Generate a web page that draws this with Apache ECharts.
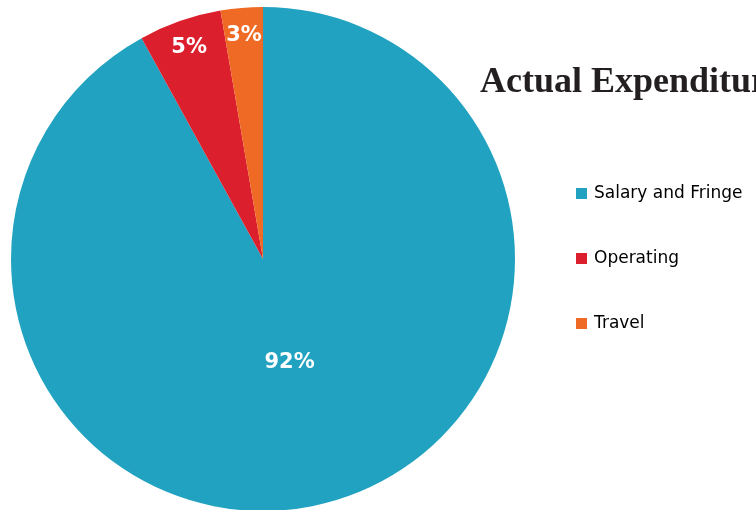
<!DOCTYPE html>
<html><head><meta charset="utf-8">
<script src="https://cdn.jsdelivr.net/npm/echarts@6/dist/echarts.min.js"></script>
<style>html,body{margin:0;padding:0;background:#fff}#c{width:756px;height:510px}</style>
</head><body><div id="c"></div>
<script>
const categories = ['Salary and Fringe', 'Operating', 'Travel'];
const values = [92, 5.3, 2.7];
const colors = ['#21a2c0', '#dc1f2c', '#ef6a24'];
const titleText = 'Actual Expenditure';

const chart = echarts.init(document.getElementById('c'));
const center = [263, 259];
const baseData = categories.map((n, i) => ({ name: n, value: values[i], itemStyle: { color: colors[i] } }));
const labelStyle = { color: '#fff', fontFamily: 'DejaVu Sans', fontWeight: 'bold', fontSize: 21,
  formatter: p => Math.round(p.value) + '%' };
function overlay(radius, showIdx) {
  return {
    type: 'pie', radius: radius, center: center, startAngle: 90, silent: true,
    animation: false, legendHoverLink: false,
    itemStyle: { color: 'rgba(0,0,0,0)', borderWidth: 0 },
    emphasis: { disabled: true },
    label: Object.assign({ position: 'inside' }, labelStyle),
    labelLine: { show: false },
    data: categories.map((n, i) => ({ name: n, value: values[i],
      itemStyle: { color: 'rgba(0,0,0,0)' },
      label: { show: showIdx.includes(i) } }))
  };
}
chart.setOption({
  animation: false,
  color: colors,
  title: { text: titleText, left: 480, top: 65, padding: 0,
    textStyle: { fontFamily: 'Liberation Serif', fontWeight: 'bold', fontSize: 36, color: '#231f20' } },
  legend: {
    orient: 'vertical', left: 576, top: 185, padding: 0, itemWidth: 11, itemHeight: 11, itemGap: 48,
    icon: 'rect', data: categories,
    textStyle: { fontFamily: 'DejaVu Sans', fontSize: 17, color: '#000', padding: [0, 0, 0, 2] }
  },
  series: [
    { type: 'pie', radius: [0, 252], center: center, startAngle: 90, clockwise: true,
      label: { show: false }, labelLine: { show: false }, emphasis: { disabled: true },
      itemStyle: { borderWidth: 0 }, data: baseData },
    overlay([0, 208], [0]),
    overlay([190, 252], [1, 2])
  ]
});
</script></body></html>
